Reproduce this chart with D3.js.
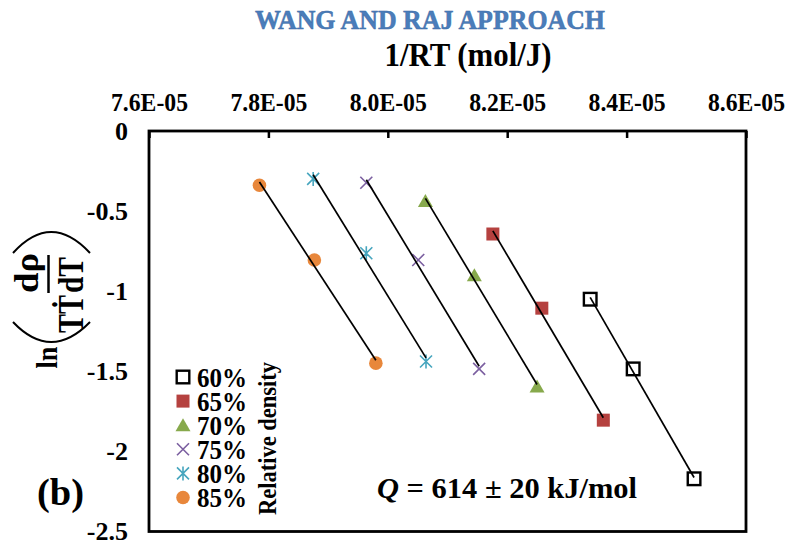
<!DOCTYPE html>
<html><head><meta charset="utf-8">
<script src="https://cdn.jsdelivr.net/npm/d3@7"></script>
<style>
html,body{margin:0;padding:0;background:#fff;}
svg{display:block;font-family:"Liberation Serif","Times New Roman",serif;font-weight:bold;}
</style></head>
<body>
<svg id="chart" width="790" height="547"></svg>
<script>
// ---- data ----
const seriesNames = ["60%", "65%", "70%", "75%", "80%", "85%"];
const invRT_60 = [8.339e-5, 8.411e-5, 8.513e-5];
const lnY_60   = [-1.050, -1.485, -2.171];
const invRT_65 = [8.176e-5, 8.258e-5, 8.361e-5];
const lnY_65   = [-0.643, -1.106, -1.805];
const invRT_70 = [8.063e-5, 8.145e-5, 8.250e-5];
const lnY_70   = [-0.437, -0.901, -1.595];
const invRT_75 = [7.964e-5, 8.051e-5, 8.153e-5];
const lnY_75   = [-0.323, -0.805, -1.485];
const invRT_80 = [7.875e-5, 7.964e-5, 8.064e-5];
const lnY_80   = [-0.299, -0.763, -1.439];
const invRT_85 = [7.785e-5, 7.877e-5, 7.980e-5];
const lnY_85   = [-0.339, -0.805, -1.449];
const xTicks = [7.6e-5, 7.8e-5, 8.0e-5, 8.2e-5, 8.4e-5, 8.6e-5];
const xTickLabels = ["7.6E-05", "7.8E-05", "8.0E-05", "8.2E-05", "8.4E-05", "8.6E-05"];
const yTicks = [0, -0.5, -1, -1.5, -2, -2.5];
const yTickLabels = ["0", "-0.5", "-1", "-1.5", "-2", "-2.5"];

const xs = [invRT_60, invRT_65, invRT_70, invRT_75, invRT_80, invRT_85];
const ys = [lnY_60, lnY_65, lnY_70, lnY_75, lnY_80, lnY_85];
const series = seriesNames.map((n, i) => ({name: n, pts: xs[i].map((x, j) => ({x, y: ys[i][j]}))}));

// ---- styles ----
const colors = ["#000000", "#b5413f", "#87a94c", "#7b5fa0", "#46a5be", "#e8873b"];
const shapes = ["squareOpen", "square", "triangle", "x", "asterisk", "circle"];

const svg = d3.select("#chart");
const L = 149, R = 746, T = 131, B = 531.5;
const x = d3.scaleLinear().domain([7.6e-5, 8.6e-5]).range([L, R]);
const y = d3.scaleLinear().domain([0, -2.5]).range([T, B]);

// title
svg.append("text").attr("x", 430).attr("y", 29).attr("text-anchor", "middle")
  .attr("font-size", 28).attr("fill", "#4a7dbb").attr("stroke", "#3d6aa3").attr("stroke-width", 0.5)
  .attr("textLength", 350).attr("lengthAdjust", "spacingAndGlyphs")
  .text("WANG AND RAJ APPROACH");
svg.append("text").attr("x", 468).attr("y", 66).attr("text-anchor", "middle")
  .attr("font-size", 33).attr("fill", "#000")
  .attr("textLength", 167).attr("lengthAdjust", "spacingAndGlyphs").text("1/RT (mol/J)");

// top axis
const xAxis = d3.axisTop(x).tickValues(xTicks)
  .tickFormat((d, i) => xTickLabels[i]).tickSizeInner(-7).tickSizeOuter(0).tickPadding(20);
const gx = svg.append("g").attr("transform", `translate(0,${T})`).call(xAxis);
gx.select(".domain").remove();
gx.selectAll(".tick line").attr("stroke", "#000").attr("stroke-width", 2.5);
gx.selectAll(".tick text").attr("font-size", 24.5).attr("font-family", "Liberation Serif").attr("font-weight", "bold")
  .attr("fill", "#000").attr("textLength", 77).attr("lengthAdjust", "spacingAndGlyphs");

// left axis labels
const yAxis = d3.axisLeft(y).tickValues(yTicks).tickFormat((d, i) => yTickLabels[i]).tickSize(0).tickPadding(21);
const gy = svg.append("g").attr("transform", `translate(${L},0)`).call(yAxis);
gy.select(".domain").remove();
gy.selectAll(".tick text").attr("font-size", 26).attr("font-family", "Liberation Serif").attr("font-weight", "bold").attr("fill", "#000");

// frame
svg.append("rect").attr("x", L).attr("y", T).attr("width", R - L).attr("height", B - T)
  .attr("fill", "none").attr("stroke", "#000").attr("stroke-width", 2.8);

// marker drawing
function drawMarker(g, shape, color, cx, cy) {
  if (shape === "squareOpen") {
    g.append("rect").attr("x", cx - 6.3).attr("y", cy - 6.3).attr("width", 12.6).attr("height", 12.6)
      .attr("fill", "none").attr("stroke", color).attr("stroke-width", 2.4);
  } else if (shape === "square") {
    g.append("rect").attr("x", cx - 6.5).attr("y", cy - 6.5).attr("width", 13).attr("height", 13).attr("fill", color);
  } else if (shape === "triangle") {
    g.append("path").attr("d", `M${cx},${cy - 7}L${cx + 7.5},${cy + 6}L${cx - 7.5},${cy + 6}Z`).attr("fill", color);
  } else if (shape === "x") {
    g.append("path").attr("d", `M${cx - 6},${cy - 6}L${cx + 6},${cy + 6}M${cx - 6},${cy + 6}L${cx + 6},${cy - 6}`)
      .attr("stroke", color).attr("stroke-width", 1.6).attr("fill", "none");
  } else if (shape === "asterisk") {
    g.append("path").attr("d", `M${cx - 6},${cy - 6}L${cx + 6},${cy + 6}M${cx - 6},${cy + 6}L${cx + 6},${cy - 6}M${cx},${cy - 7}L${cx},${cy + 7}`)
      .attr("stroke", color).attr("stroke-width", 1.6).attr("fill", "none");
  } else if (shape === "circle") {
    g.append("circle").attr("cx", cx).attr("cy", cy).attr("r", 6.8).attr("fill", color);
  }
}

// points
const gp = svg.append("g");
series.forEach((s, i) => {
  s.pts.forEach(p => drawMarker(gp, shapes[i], colors[i], x(p.x), y(p.y)));
});

// linear trend lines
const gl = svg.append("g");
series.forEach(s => {
  const mx = d3.mean(s.pts, p => p.x), my = d3.mean(s.pts, p => p.y);
  const sxy = d3.sum(s.pts, p => (p.x - mx) * (p.y - my));
  const sxx = d3.sum(s.pts, p => (p.x - mx) ** 2);
  const b = sxy / sxx, a = my - b * mx;
  const [x0, x1] = d3.extent(s.pts, p => p.x);
  gl.append("line").attr("x1", x(x0)).attr("y1", y(a + b * x0)).attr("x2", x(x1)).attr("y2", y(a + b * x1))
    .attr("stroke", "#000").attr("stroke-width", 1.7);
});

// legend
const legY0 = 377, legDY = 24.1;
series.forEach((s, i) => {
  const cy = legY0 + i * legDY;
  drawMarker(svg, shapes[i], colors[i], 183, cy);
  svg.append("text").attr("x", 197).attr("y", cy + 9.5).attr("font-size", 27).attr("fill", "#000")
    .attr("textLength", 50).attr("lengthAdjust", "spacingAndGlyphs").text(s.name);
});
svg.append("text").attr("transform", "translate(276,438.5) rotate(-90)").attr("text-anchor", "middle")
  .attr("font-size", 25).attr("fill", "#000")
  .attr("textLength", 153).attr("lengthAdjust", "spacingAndGlyphs").text("Relative density");

// (b)
svg.append("text").attr("x", 37).attr("y", 505).attr("font-size", 37).attr("fill", "#000")
  .attr("textLength", 47).attr("lengthAdjust", "spacingAndGlyphs").text("(b)");

// Q annotation
const qt = svg.append("text").attr("x", 377).attr("y", 498).attr("font-size", 30).attr("fill", "#000")
  .attr("textLength", 260).attr("lengthAdjust", "spacingAndGlyphs");
qt.append("tspan").attr("font-style", "italic").text("Q");
qt.append("tspan").text(" = 614 \u00b1 20 kJ/mol");

// y-axis label: ln( T T-dot dρ/dT )
const yl = svg.append("g");
function vtext(cx, cy, size, len, str) {
  return yl.append("text").attr("transform", `translate(${cx},${cy}) rotate(-90)`).attr("text-anchor", "middle")
    .attr("font-size", size).attr("textLength", len).attr("lengthAdjust", "spacingAndGlyphs")
    .attr("font-family", "Liberation Serif, DejaVu Serif").text(str);
}
vtext(57, 357.5, 30, 22, "ln");
vtext(83, 314, 36, 38, "T\u1E6A");
vtext(38, 273, 34, 40, "d\u03c1");
vtext(83, 275, 36, 36, "dT");
yl.append("line").attr("x1", 48.5).attr("x2", 48.5).attr("y1", 255).attr("y2", 293).attr("stroke", "#000").attr("stroke-width", 2.5);
yl.append("path").attr("d", "M13,322 Q51,362 90,322").attr("fill", "none").attr("stroke", "#000").attr("stroke-width", 2);
yl.append("path").attr("d", "M13,253 Q51,211 90,253").attr("fill", "none").attr("stroke", "#000").attr("stroke-width", 2);
</script>
</body></html>
